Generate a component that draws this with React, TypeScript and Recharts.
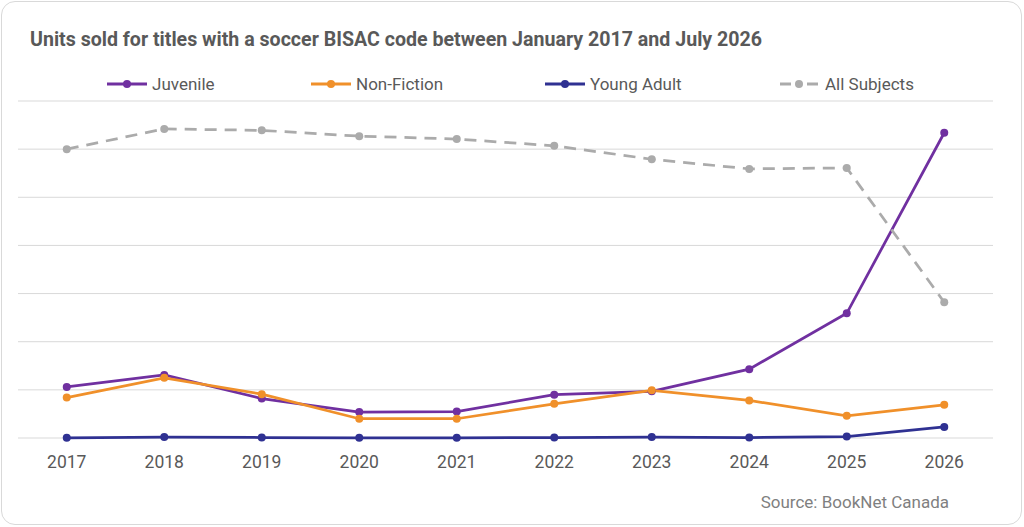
import React from 'react';
import { LineChart, Line, XAxis, YAxis, CartesianGrid, Legend } from 'recharts';

const years = ['2017', '2018', '2019', '2020', '2021', '2022', '2023', '2024', '2025', '2026'];
const juvenile = [1060, 1310, 820, 540, 550, 900, 970, 1430, 2590, 6340];
const nonFiction = [840, 1250, 910, 400, 400, 710, 990, 780, 460, 690];
const youngAdult = [5, 20, 10, 3, 3, 10, 20, 10, 30, 230];
const allSubjects = [6000, 6420, 6390, 6270, 6210, 6070, 5790, 5590, 5610, 2820];
const yTicks = [0, 1000, 2000, 3000, 4000, 5000, 6000, 7000];
const boundaryTicks = [0, 1, 2, 3, 4, 5, 6, 7, 8, 9, 10];

const TEXT = '#595959';
const GRID = '#d9d9d9';
const FONT = 'Roboto, "Open Sans", sans-serif';

const seriesDefs = [
  { key: 'juvenile', name: 'Juvenile', color: '#7030A0', dashed: false, itemWidth: 204 },
  { key: 'nonFiction', name: 'Non-Fiction', color: '#F0902A', dashed: false, itemWidth: 234 },
  { key: 'youngAdult', name: 'Young Adult', color: '#2F3192', dashed: false, itemWidth: 235 },
  { key: 'allSubjects', name: 'All Subjects', color: '#ABABAB', dashed: true, itemWidth: 150 },
];

const data = years.map((year, i) => ({
  year,
  juvenile: juvenile[i],
  nonFiction: nonFiction[i],
  youngAdult: youngAdult[i],
  allSubjects: allSubjects[i],
}));

const renderLegend = () => (
  <div style={{ display: 'flex', alignItems: 'center', paddingLeft: 107, height: 20, fontFamily: FONT }}>
    {seriesDefs.map((s) => (
      <div key={s.key} style={{ display: 'flex', alignItems: 'center', width: s.itemWidth, flex: 'none' }}>
        <svg width={40} height={12} style={{ display: 'block' }}>
          {s.dashed ? (
            <>
              <line x1={0} y1={6} x2={11} y2={6} stroke={s.color} strokeWidth={3} />
              <line x1={27} y1={6} x2={38} y2={6} stroke={s.color} strokeWidth={3} />
              <circle cx={19} cy={6} r={4} fill={s.color} />
            </>
          ) : (
            <>
              <line x1={0} y1={6} x2={40} y2={6} stroke={s.color} strokeWidth={3} />
              <circle cx={20} cy={6} r={4} fill={s.color} />
            </>
          )}
        </svg>
        <span style={{ marginLeft: 5, fontSize: 17, color: TEXT, lineHeight: '20px', whiteSpace: 'nowrap' }}>{s.name}</span>
      </div>
    ))}
  </div>
);

export default function App() {
  return (
    <div style={{ position: 'absolute', left: 0, top: 0, width: 1024, height: 527, background: '#fff', fontFamily: FONT }}>
      <div
        style={{
          position: 'absolute', left: 1, top: 1, width: 1021, height: 524,
          border: `1px solid ${GRID}`, borderRadius: 14, boxSizing: 'border-box',
        }}
      />
      <div
        style={{
          position: 'absolute', left: 30, top: 30, fontSize: 19.6, lineHeight: '20px',
          fontWeight: 700, color: TEXT, whiteSpace: 'nowrap',
        }}
      >
        Units sold for titles with a soccer BISAC code between January 2017 and July 2026
      </div>
      <div style={{ position: 'absolute', left: 0, top: 0 }}>
        <LineChart width={1024} height={527} data={data} margin={{ top: 101, right: 31, bottom: 59, left: 18 }}>
          <CartesianGrid vertical={false} stroke={GRID} strokeWidth={1} />
          <XAxis
            dataKey="year"
            interval={0}
            padding={{ left: 48.75, right: 48.75 }}
            axisLine={false}
            tickLine={false}
            tickSize={0}
            tickMargin={18}
            height={30}
            tick={{ fill: TEXT, fontSize: 17.5, fontFamily: FONT }}
          />
          <XAxis
            xAxisId="top"
            type="number"
            orientation="top"
            domain={[0, 10]}
            ticks={boundaryTicks}
            height={0}
            tickSize={5}
            tickFormatter={() => ''}
            axisLine={{ stroke: GRID }}
            tickLine={{ stroke: GRID }}
            allowDataOverflow
          />
          <YAxis hide domain={[0, 7000]} ticks={yTicks} />
          <Legend
            verticalAlign="middle"
            layout="horizontal"
            wrapperStyle={{ top: 74, left: 0, width: 1024 }}
            content={renderLegend}
          />
          {seriesDefs.map((s) => (
            <Line
              key={s.key}
              type="linear"
              dataKey={s.key}
              name={s.name}
              stroke={s.color}
              strokeWidth={2.75}
              strokeDasharray={s.dashed ? '12 8' : undefined}
              dot={{ r: 4, fill: s.color, stroke: s.color, strokeWidth: 0 }}
              activeDot={false}
              isAnimationActive={false}
            />
          ))}
        </LineChart>
      </div>
      <div
        style={{
          position: 'absolute', right: 1024 - 949, top: 492, fontSize: 17, lineHeight: '20px',
          color: '#7F7F7F', whiteSpace: 'nowrap',
        }}
      >
        Source: BookNet Canada
      </div>
    </div>
  );
}
